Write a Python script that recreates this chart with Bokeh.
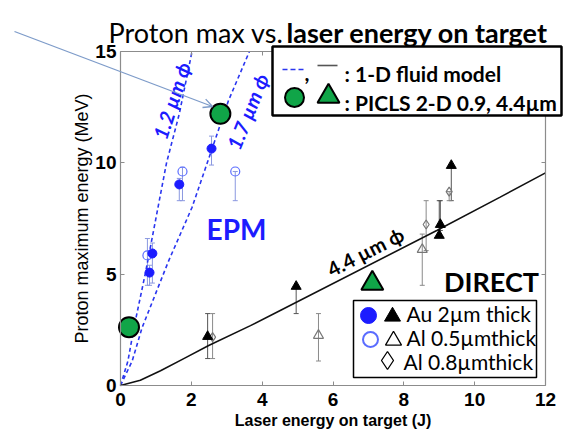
from bokeh.plotting import figure
from bokeh.models import (Range1d, LinearAxis, Label, Arrow, OpenHead, Whisker, TeeHead,
                          ColumnDataSource, BoxAnnotation, FixedTicker, CustomJSTickFormatter)
from bokeh.embed import file_html
from bokeh.resources import INLINE

# ---------------- data ----------------
x_ticks = [0, 2, 4, 6, 8, 10, 12]
y_ticks = [0, 5, 10, 15]
x_lim = (0, 12)
y_lim = (0, 15)

# 1-D fluid model curves
model_12_x = [0, 0.21, 0.38, 0.71, 1.30, 1.66, 2.02]
model_12_y = [0, 1.1, 2.6, 5.1, 10.0, 12.2, 15.0]
model_17_x = [0, 0.33, 0.61, 1.36, 2.02, 2.45, 3.05, 3.64]
model_17_y = [0, 1.1, 2.6, 5.6, 8.0, 10.0, 12.8, 15.0]
model_44_x = [0, 0.56, 1.13, 1.80, 2.49, 3.67, 4.51, 8.93, 10.72, 12.0]
model_44_y = [0, 0.24, 0.66, 1.22, 1.80, 2.69, 3.37, 6.96, 8.46, 9.55]

# EPM, Au 2um (filled blue circles)
au_epm_x = [0.82, 0.90, 1.66, 2.57]
au_epm_y = [5.07, 5.93, 9.03, 10.64]
au_epm_lo = [4.5, 4.6, 8.3, 9.9]
au_epm_hi = [5.4, 6.4, 9.3, 11.2]

# EPM, Al 0.5um (open blue circles)
al05_epm_x = [0.76, 1.75, 3.24]
al05_epm_y = [5.84, 9.61, 9.61]
al05_epm_lo = [4.5, 8.3, 8.3]
al05_epm_hi = [6.6, 9.8, 9.61]

# DIRECT, Au 2um (filled black triangles)
au_dir_x = [2.46, 4.96, 9.00, 9.03, 9.34]
au_dir_y = [2.20, 4.45, 6.74, 7.23, 9.88]
au_dir_lo = [1.21, 3.23, 6.74, 6.96, 8.3]
au_dir_hi = [3.23, 4.45, 8.3, 8.3, 9.88]

# DIRECT, Al 0.5um (open triangles)
al05_dir_x = [5.59, 8.52]
al05_dir_y = [2.25, 6.11]
al05_dir_lo = [1.1, 4.5]
al05_dir_hi = [3.23, 6.8]

# Al 0.8um (open diamonds)
al08_x = [2.60, 8.63, 9.28]
al08_y = [2.17, 7.23, 8.71]
al08_lo = [1.21, 6.06, 8.3]
al08_hi = [3.23, 8.3, 8.71]

# PICLS 2-D simulations
picls_circ_x = [0.24, 2.82]
picls_circ_y = [2.62, 12.2]
picls_tri_x = [7.11]
picls_tri_y = [4.58]

# ---------------- styling ----------------
BLUE = "#1c1cff"
BLUE_OPEN = "#5a6cff"
BLUE_ERR = "#8a98e0"
GRAY = "#8a8a8a"
AXC = "#8c8c8c"
GREEN = "#10a548"
AX = "Liberation Sans"
CAL = "Lato"

# layout: the canvas is the plotting frame; the data box sits at these page pixels
W, H = 563, 432
PAGE = 0
BOX_L, BOX_R, BOX_B, BOX_T = 120, 545, 385, 51


def px(ix):
    return x_lim[0] + (ix - BOX_L) * (x_lim[1] - x_lim[0]) / (BOX_R - BOX_L)


def py(iy):
    return y_lim[0] + (BOX_B - iy) * (y_lim[1] - y_lim[0]) / (BOX_B - BOX_T)


p = figure(width=W, height=H,
           x_range=Range1d(px(PAGE), px(PAGE + W)), y_range=Range1d(py(PAGE + H), py(PAGE)),
           x_axis_location=None, y_axis_location=None,
           output_backend="svg", toolbar_location=None,
           min_border_left=0, min_border_right=0, min_border_top=0, min_border_bottom=0)
p.outline_line_color = None
p.grid.visible = False
p.background_fill_color = "white"
p.border_fill_color = "white"


def make_axis(side, ticks, loc, bounds, labels):
    ax = LinearAxis(ticker=FixedTicker(ticks=ticks), fixed_location=loc, bounds=bounds)
    ax.axis_line_color = AXC
    ax.axis_line_width = 1.2
    ax.major_tick_line_color = AXC
    ax.major_tick_in = 4
    ax.major_tick_out = 0
    ax.minor_tick_line_color = None
    if labels:
        ax.major_label_text_font = AX
        ax.major_label_text_font_style = "bold"
        ax.major_label_text_font_size = "19px"
        ax.major_label_text_color = "black"
    else:
        ax.formatter = CustomJSTickFormatter(code="return ''")
    p.add_layout(ax, side)
    return ax


xax = make_axis("below", x_ticks, y_lim[0], x_lim, True)
xax.major_label_standoff = 7
xax.axis_label = "Laser energy on target (J)"
xax.axis_label_text_font = AX
xax.axis_label_text_font_style = "bold"
xax.axis_label_text_font_size = "16px"
xax.axis_label_text_color = "black"
xax.axis_label_standoff = 3

yax = make_axis("left", y_ticks, x_lim[0], y_lim, True)
yax.major_label_standoff = 4
yax.axis_label = "Proton maximum energy (MeV)"
yax.axis_label_text_font = AX
yax.axis_label_text_font_style = "normal"
yax.axis_label_text_font_size = "18px"
yax.axis_label_text_color = "black"
yax.axis_label_standoff = 0

make_axis("right", y_ticks, x_lim[1], y_lim, False)
make_axis("above", x_ticks, y_lim[1], x_lim, False)

# ---------------- model curves ----------------
p.line(model_12_x, model_12_y, line_color="#2a36f0", line_width=1.6, line_dash="4 3")
p.line(model_17_x, model_17_y, line_color="#2a36f0", line_width=1.6, line_dash="4 3")
p.line(model_44_x, model_44_y, line_color="#111111", line_width=1.6)


# ---------------- error bars ----------------
def bars(xs, lo, hi, color, width=1.0):
    src = ColumnDataSource(dict(x=xs, lo=lo, hi=hi))
    w = Whisker(source=src, base="x", lower="lo", upper="hi", dimension="height",
                line_color=color, line_width=width,
                lower_head=TeeHead(size=5, line_color=color, line_width=width),
                upper_head=TeeHead(size=5, line_color=color, line_width=width),
                level="underlay")
    p.add_layout(w)


bars(au_epm_x, au_epm_lo, au_epm_hi, BLUE_ERR)
bars(al05_epm_x, al05_epm_lo, al05_epm_hi, BLUE_ERR)
bars(au_dir_x, au_dir_lo, au_dir_hi, "#555555")
bars(al05_dir_x, al05_dir_lo, al05_dir_hi, GRAY)
bars(al08_x, al08_lo, al08_hi, GRAY)

# ---------------- data markers ----------------
p.scatter(al05_epm_x, al05_epm_y, marker="circle", size=9, fill_color=None,
          line_color=BLUE_OPEN, line_width=1.2)
p.scatter(au_epm_x, au_epm_y, marker="circle", size=9, fill_color=BLUE, line_color=BLUE)
p.scatter(al08_x, al08_y, marker="diamond", size=9, fill_color=None,
          line_color="#777777", line_width=1.2)
p.scatter(al05_dir_x, al05_dir_y, marker="triangle", size=10, fill_color=None,
          line_color="#777777", line_width=1.2)
p.scatter(au_dir_x, au_dir_y, marker="triangle", size=10, fill_color="black", line_color="black")
p.scatter(picls_circ_x, picls_circ_y, marker="circle", size=20, fill_color=GREEN,
          line_color="black", line_width=2)
p.scatter(picls_tri_x, picls_tri_y, marker="triangle", size=22, fill_color=GREEN,
          line_color="black", line_width=2)

# ---------------- text in the plot ----------------
p.add_layout(Label(x=px(171), y=py(100), text="1.2 µm ϕ", angle=72, angle_units="deg",
                   text_align="center", text_baseline="middle", text_color=BLUE,
                   text_font=CAL, text_font_style="bold italic", text_font_size="20px"))
p.add_layout(Label(x=px(247), y=py(111), text="1.7 µm ϕ", angle=68, angle_units="deg",
                   text_align="center", text_baseline="middle", text_color=BLUE,
                   text_font=CAL, text_font_style="bold italic", text_font_size="20px"))
p.add_layout(Label(x=px(365), y=py(251), text="4.4 µm ϕ", angle=27, angle_units="deg",
                   text_align="center", text_baseline="middle", text_color="black",
                   text_font=CAL, text_font_style="bold", text_font_size="20px"))
p.add_layout(Label(x=px(236), y=py(228), text="EPM", text_align="center", text_baseline="middle",
                   text_color=BLUE, text_font=CAL, text_font_style="bold", text_font_size="28px"))
p.add_layout(Label(x=px(491), y=py(281), text="DIRECT", text_align="center", text_baseline="middle",
                   text_color="black", text_font=CAL, text_font_style="bold", text_font_size="27px"))

# arrow
p.add_layout(Arrow(x_start=px(14), y_start=py(31), x_end=px(212), y_end=py(106),
                   line_color="#7d9bc9", line_width=1.3,
                   end=OpenHead(size=9, line_color="#7d9bc9", line_width=1.3)))

# title (normal + bold parts)
p.add_layout(Label(x=px(108), y=py(32), text="Proton max vs.", text_baseline="alphabetic",
                   text_font=CAL, text_font_size="27px", text_color="black"))
p.add_layout(Label(x=px(286), y=py(32), text="laser energy on target", text_baseline="alphabetic",
                   text_font=CAL, text_font_style="bold", text_font_size="27px", text_color="black"))

# ---------------- legend 1 (model / simulation) ----------------
p.add_layout(BoxAnnotation(left=px(272), right=px(561), top=py(46), bottom=py(115),
                           fill_color="white", fill_alpha=1, line_color="black",
                           line_alpha=1, line_width=2.5))
p.line([px(282), px(303)], [py(69), py(69)], line_color="#2a36f0", line_width=1.6,
       line_dash="5 3", level="overlay")
p.line([px(317), px(337)], [py(65), py(65)], line_color="#555555", line_width=1.6, level="overlay")
p.add_layout(Label(x=px(304), y=py(73), text=",", text_baseline="alphabetic", text_font=CAL,
                   text_font_style="bold", text_font_size="21px", text_color="black"))
p.add_layout(Label(x=px(344), y=py(73), text=": 1-D fluid model", text_baseline="alphabetic",
                   text_font=CAL, text_font_style="bold", text_font_size="21px", text_color="black"))
p.scatter([px(294)], [py(97)], marker="circle", size=19, fill_color=GREEN, line_color="black",
          line_width=2, level="overlay")
p.scatter([px(328)], [py(96)], marker="triangle", size=22, fill_color=GREEN, line_color="black",
          line_width=2, level="overlay")
p.add_layout(Label(x=px(344), y=py(102), text=": PICLS 2-D 0.9, 4.4µm", text_baseline="alphabetic",
                   text_font=CAL, text_font_style="bold", text_font_size="21px", text_color="black"))

# ---------------- legend 2 (targets) ----------------
p.add_layout(BoxAnnotation(left=px(353), right=px(536), top=py(300), bottom=py(377),
                           fill_color="white", fill_alpha=1, line_color="black",
                           line_alpha=1, line_width=1.5))
p.scatter([px(368)], [py(315)], marker="circle", size=16, fill_color=BLUE, line_color=BLUE,
          level="overlay")
p.scatter([px(392)], [py(316)], marker="triangle", size=16, fill_color="black", line_color="black",
          level="overlay")
p.scatter([px(370)], [py(339)], marker="circle", size=15, fill_color=None, line_color=BLUE_OPEN,
          line_width=2, level="overlay")
p.scatter([px(393)], [py(340)], marker="triangle", size=16, fill_color=None, line_color="black",
          line_width=1.3, level="overlay")
p.scatter([px(387)], [py(360)], marker="diamond", size=18, fill_color=None, line_color="black",
          line_width=1.3, level="overlay")
for ix, iy, txt in ((406, 313, "Au 2µm thick"), (406, 337, "Al 0.5µmthick"), (403, 361, "Al 0.8µmthick")):
    p.add_layout(Label(x=px(ix), y=py(iy), text=txt, text_baseline="middle", text_font=CAL,
                       text_font_size="21px", text_color="black"))

open("out.html", "w").write(file_html(p, INLINE))
